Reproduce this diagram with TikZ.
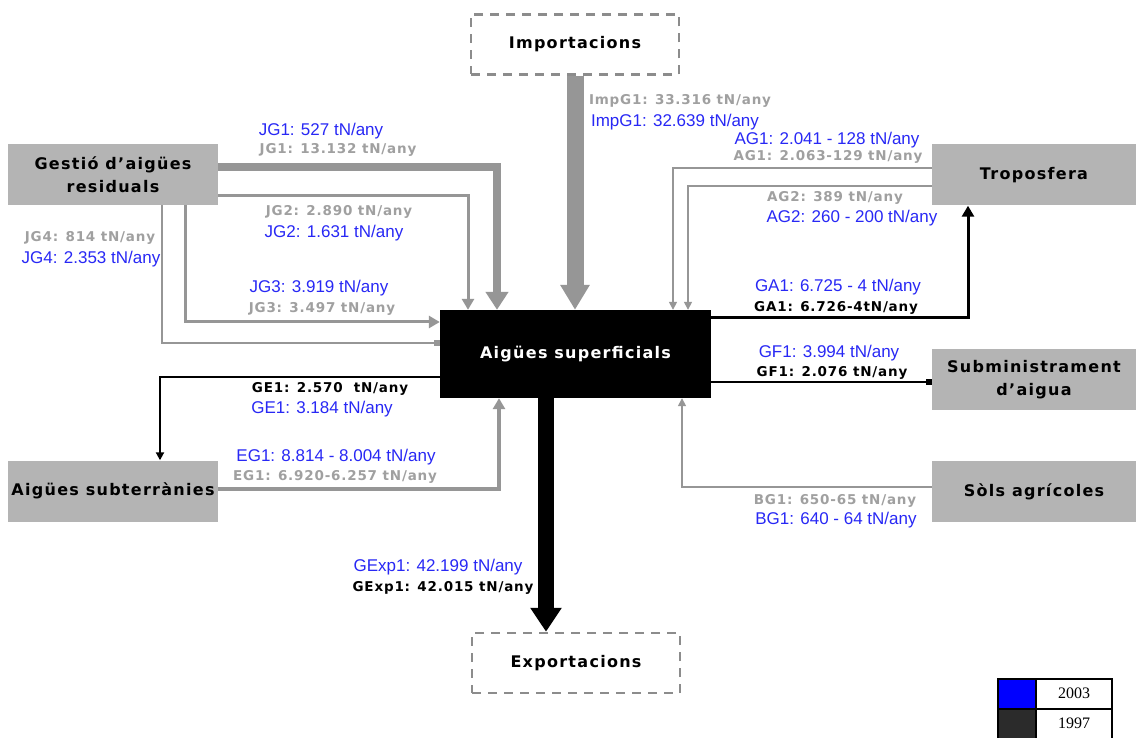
\documentclass[tikz,border=0pt]{standalone}
\usepackage{fontspec}
\setmainfont{Liberation Serif}
\newfontfamily\boxf{DejaVu Sans}[LetterSpace=8]
\newfontfamily\grayf{DejaVu Sans}[LetterSpace=6]
\newfontfamily\bluef{Liberation Sans}
\usetikzlibrary{arrows.meta}

\definecolor{boxgray}{RGB}{180,180,180}
\definecolor{linegray}{RGB}{150,150,150}
\definecolor{txtgray}{RGB}{160,160,160}
\definecolor{txtblue}{RGB}{40,40,245}
\definecolor{dashgray}{RGB}{140,140,140}
\definecolor{legdark}{RGB}{43,43,43}

\tikzset{
  x=1pt, y=-1pt,
  titlefont/.style={font=\boxf\bfseries\fontsize{16}{23}\selectfont},
  grayblock/.style={rectangle, fill=boxgray, inner sep=0, align=center,
    minimum width=#1, minimum height=61pt, titlefont},
  grayblock/.default=210pt,
  dashblock/.style={rectangle, draw=dashgray, line width=2.5pt,
    dash pattern=on 9pt off 7pt, inner sep=0, minimum width=208pt,
    minimum height=60pt, titlefont},
  glab/.style={inner sep=0, text=txtgray, font=\grayf\bfseries\fontsize{13.5}{15}\selectfont},
  klab/.style={inner sep=0, text=black, font=\grayf\bfseries\fontsize{13.5}{15}\selectfont},
  blab/.style={inner sep=0, text=txtblue, font=\bluef\fontsize{17}{19}\selectfont},
  gflow/.style={draw=linegray, line width=#1},
  kflow/.style={draw=black, line width=#1},
  smalltip/.style={-{Triangle[length=8pt,width=8pt]}},
  midtip/.style={-{Triangle[length=11pt,width=12pt]}},
  sqend/.style={-{Square[length=6pt,width=6pt]}},
  legcell/.style={rectangle, draw=black, line width=2pt, inner sep=0,
    minimum width=#1, minimum height=30pt, font=\fontsize{16}{18}\selectfont},
}

\begin{document}
\begin{tikzpicture}
\useasboundingbox[fill=white] (0,0) rectangle (1136,738);

% ---- blocks ----
\node[dashblock] (imp) at (575,44.5) {Importacions};
\node[grayblock] (ges) at (113,174.5) {Gestió d’aigües\\residuals};
\node[grayblock=204pt] (tro) at (1034,175) {Troposfera};
\node[rectangle, fill=black, text=white, inner sep=0, minimum width=271pt,
      minimum height=88pt, titlefont] (sup) at (575.5,354) {Aigües superficials};
\node[grayblock=204pt] (sub) at (1034,379.5) {Subministrament\\d’aigua};
\node[grayblock=204pt] (sol) at (1034,491.5) {Sòls agrícoles};
\node[grayblock] (sut) at (113,491) {Aigües subterrànies};
\node[dashblock] (exp) at (576,663) {Exportacions};

% ---- bend points of the flows ----
\coordinate (jg1) at (497,167);
\coordinate (jg2) at (468,196);
\coordinate (jg3) at (185,322);
\coordinate (jg4) at (162,343);
\coordinate (ag1) at (673,168);
\coordinate (ag2) at (688,186);
\coordinate (ga1) at (968,318);
\coordinate (gf1) at (0,382);
\coordinate (ge1) at (160,377);
\coordinate (eg1) at (499,489);
\coordinate (bg1) at (682,487);
\coordinate (gexp) at (546,0);

% ---- flows ----
\draw[gflow=17pt, -{Triangle[length=25pt,width=28pt]}] (imp.south) -- (imp.south |- sup.north);
\draw[gflow=8pt, -{Triangle[length=18pt,width=22pt]}] (ges.east |- jg1) -| (sup.north -| jg1);
\draw[gflow=3pt, midtip] (ges.east |- jg2) -| (sup.north -| jg2);
\draw[gflow=3pt, midtip] (ges.south -| jg3) |- (sup.west |- jg3);
\draw[gflow=2pt, sqend] (ges.south -| jg4) |- (sup.west |- jg4);
\draw[gflow=1.5pt, smalltip] (tro.west |- ag1) -| (sup.north -| ag1);
\draw[gflow=1.5pt, smalltip] (tro.west |- ag2) -| (sup.north -| ag2);
\draw[kflow=3pt, midtip] (sup.east |- ga1) -| (tro.south -| ga1);
\draw[kflow=2pt, sqend] (sup.east |- gf1) -- (sub.west |- gf1);
\draw[kflow=2pt, smalltip] (sup.west |- ge1) -| (sut.north -| ge1);
\draw[gflow=3.5pt, midtip] (sut.east |- eg1) -| (sup.south -| eg1);
\draw[gflow=1.5pt, smalltip] (sol.west |- bg1) -| (sup.south -| bg1);
\draw[kflow=16pt, -{Triangle[length=24pt,width=30pt]}] (sup.south -| gexp) -- (exp.north -| gexp);

% ---- flow values ----
\node[blab] (jg1b) at (321,131) {JG1: 527 tN/any};
\node[glab] (jg1g) at (338,150) {JG1: 13.132 tN/any};
\node[glab] (jg2g) at (339,212) {JG2: 2.890 tN/any};
\node[blab] (jg2b) at (334,233) {JG2: 1.631 tN/any};
\node[blab] (jg3b) at (319,288) {JG3: 3.919 tN/any};
\node[glab] (jg3g) at (322,309) {JG3: 3.497 tN/any};
\node[glab] (jg4g) at (90,238) {JG4: 814 tN/any};
\node[blab] (jg4b) at (91,259) {JG4: 2.353 tN/any};
\node[glab] (impg) at (680,101) {ImpG1: 33.316 tN/any};
\node[blab] (impb) at (675,122) {ImpG1: 32.639 tN/any};
\node[blab] (ag1b) at (827,140) {AG1: 2.041 - 128 tN/any};
\node[glab] (ag1g) at (828,157) {AG1: 2.063-129 tN/any};
\node[glab] (ag2g) at (835,198) {AG2: 389 tN/any};
\node[blab] (ag2b) at (852,218) {AG2: 260 - 200 tN/any};
\node[blab] (ga1b) at (838,287) {GA1: 6.725 - 4 tN/any};
\node[klab] (ga1k) at (836,308) {GA1: 6.726-4tN/any};
\node[blab] (gf1b) at (829,353) {GF1: 3.994 tN/any};
\node[klab] (gf1k) at (832,373) {GF1: 2.076 tN/any};
\node[klab] (ge1k) at (330,389) {GE1: 2.570\ \ tN/any};
\node[blab] (ge1b) at (322,409) {GE1: 3.184 tN/any};
\node[blab] (eg1b) at (336,457) {EG1: 8.814 - 8.004 tN/any};
\node[glab] (eg1g) at (335,477) {EG1: 6.920-6.257 tN/any};
\node[glab] (bg1g) at (835,501) {BG1: 650-65 tN/any};
\node[blab] (bg1b) at (836,520) {BG1: 640 - 64 tN/any};
\node[blab] (gexpb) at (438,567) {GExp1: 42.199 tN/any};
\node[klab] (gexpk) at (443,588) {GExp1: 42.015 tN/any};

% ---- legend ----
\node[legcell=38pt, fill=blue] (key03) at (1017,693.5) {};
\node[legcell=76pt] (lab03) at (1074,693.5) {2003};
\node[legcell=38pt, fill=legdark] (key97) at (1017,723.5) {};
\node[legcell=76pt] (lab97) at (1074,723.5) {1997};
\end{tikzpicture}
\end{document}
